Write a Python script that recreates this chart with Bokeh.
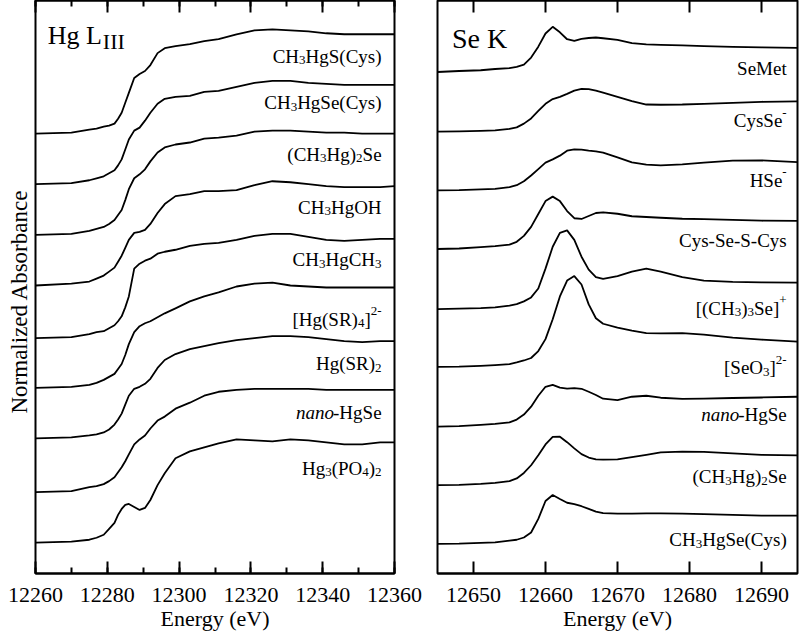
import numpy as np
from bokeh.plotting import figure
from bokeh.layouts import row
from bokeh.models import (Range1d, SingleIntervalTicker, LinearAxis, Title, ColumnDataSource,
                          BasicTickFormatter, CustomLabelingPolicy)
from bokeh.core.properties import value
from bokeh.embed import file_html
from bokeh.resources import INLINE

FONT = "Liberation Serif"

# ---------------- Hg L(III) edge data (normalized absorbance) ----------------
hg_energy = [12260, 12270, 12275, 12277, 12279, 12280.5, 12282, 12283, 12284, 12285, 12286,
             12287.5, 12289, 12290.5, 12292, 12294, 12296, 12299, 12303, 12307, 12311, 12316,
             12321, 12326, 12331, 12336, 12341, 12346, 12351, 12356, 12360]
hg_ch3hgs_cys = [0, 0.01, 0.04, 0.05, 0.07, 0.08, 0.10, 0.15, 0.21, 0.31, 0.41, 0.56, 0.60, 0.63,
                 0.69, 0.81, 0.86, 0.88, 0.90, 0.93, 0.95, 1.00, 1.04, 1.05, 1.04, 1.03, 1.01,
                 1.00, 1.00, 1.00, 1.00]
hg_ch3hgse_cys = [0, 0.01, 0.04, 0.06, 0.08, 0.11, 0.14, 0.19, 0.25, 0.35, 0.45, 0.54, 0.57, 0.64,
                  0.72, 0.81, 0.86, 0.88, 0.89, 0.93, 0.94, 0.98, 1.02, 1.04, 1.04, 1.02, 1.01,
                  1.00, 1.00, 1.00, 1.00]
hg_ch3hg2se = [0, 0.01, 0.04, 0.06, 0.08, 0.11, 0.15, 0.20, 0.25, 0.35, 0.46, 0.57, 0.61, 0.66,
               0.74, 0.83, 0.88, 0.91, 0.93, 0.97, 0.98, 1.00, 1.04, 1.05, 1.05, 1.04, 1.03,
               1.03, 1.02, 1.02, 1.02]
hg_ch3hgoh = [0, 0.02, 0.04, 0.07, 0.10, 0.14, 0.18, 0.24, 0.30, 0.38, 0.46, 0.53, 0.54, 0.56,
              0.62, 0.73, 0.82, 0.90, 0.92, 0.95, 0.95, 0.96, 1.01, 1.05, 1.04, 1.02, 1.00,
              0.99, 0.99, 0.99, 1.00]
hg_ch3hgch3 = [0, 0.01, 0.04, 0.06, 0.07, 0.10, 0.13, 0.17, 0.22, 0.31, 0.42, 0.70, 0.75, 0.78,
               0.80, 0.85, 0.87, 0.89, 0.93, 0.95, 0.96, 0.99, 1.03, 1.05, 1.05, 1.02, 0.99,
               0.98, 0.99, 1.00, 1.00]
hg_hgsr4 = [0, 0.01, 0.03, 0.05, 0.08, 0.11, 0.14, 0.19, 0.24, 0.33, 0.44, 0.56, 0.62, 0.65,
            0.67, 0.71, 0.75, 0.80, 0.87, 0.92, 0.96, 1.02, 1.05, 1.06, 1.03, 1.02, 1.01,
            1.01, 1.01, 1.01, 1.01]
hg_hgsr2 = [0, 0.01, 0.03, 0.04, 0.06, 0.09, 0.14, 0.19, 0.25, 0.34, 0.43, 0.50, 0.52, 0.55,
            0.60, 0.71, 0.79, 0.85, 0.90, 0.93, 0.96, 0.99, 1.01, 1.03, 1.03, 1.02, 1.00,
            0.98, 0.97, 0.98, 0.98]
hg_nanohgse = [0, 0.01, 0.05, 0.06, 0.08, 0.11, 0.15, 0.20, 0.25, 0.31, 0.38, 0.48, 0.53, 0.57,
               0.64, 0.72, 0.76, 0.84, 0.90, 0.97, 1.01, 1.03, 1.04, 1.04, 1.04, 1.04, 1.03,
               1.03, 1.03, 1.03, 1.03]
hg_hg3po42 = [0, 0.01, 0.03, 0.05, 0.08, 0.14, 0.20, 0.28, 0.34, 0.38, 0.39, 0.36, 0.33, 0.35,
              0.43, 0.58, 0.70, 0.85, 0.92, 0.96, 1.00, 1.04, 1.03, 1.02, 1.04, 1.03, 1.01,
              0.99, 0.99, 1.01, 1.01]

# ---------------- Se K edge data (normalized absorbance) ----------------
se_energy = [12645, 12648, 12651, 12653, 12655, 12656, 12657, 12658, 12659, 12660, 12661,
             12662, 12663, 12664, 12665, 12666, 12667, 12668, 12670, 12672, 12674, 12676,
             12679, 12682, 12686, 12690, 12695]
se_semet = [0, 0.04, 0.07, 0.12, 0.16, 0.21, 0.30, 0.58, 1.02, 1.55, 1.82, 1.60, 1.32, 1.25,
            1.33, 1.37, 1.39, 1.36, 1.29, 1.16, 1.11, 1.09, 1.07, 1.04, 1.01, 0.99, 0.97]
se_cysse = [0, 0.01, 0.03, 0.05, 0.11, 0.17, 0.32, 0.53, 0.83, 1.12, 1.31, 1.40, 1.52, 1.65,
            1.72, 1.71, 1.65, 1.57, 1.40, 1.23, 1.09, 1.08, 1.09, 1.12, 1.16, 1.20, 1.22]
se_hse = [0, 0.01, 0.04, 0.06, 0.13, 0.21, 0.37, 0.60, 0.86, 1.12, 1.25, 1.40, 1.60, 1.65,
          1.64, 1.60, 1.57, 1.52, 1.33, 1.13, 1.04, 1.01, 1.05, 1.12, 1.20, 1.21, 1.14]
se_cysses = [0, 0.02, 0.08, 0.12, 0.18, 0.29, 0.53, 0.89, 1.41, 1.93, 2.11, 1.93, 1.53, 1.24,
             1.21, 1.33, 1.45, 1.48, 1.42, 1.32, 1.29, 1.26, 1.22, 1.20, 1.17, 1.14, 1.13]
se_tmse = [0, 0.02, 0.04, 0.07, 0.14, 0.20, 0.31, 0.47, 0.83, 1.63, 2.51, 3.07, 3.17, 2.79,
           2.11, 1.59, 1.29, 1.22, 1.33, 1.51, 1.63, 1.51, 1.29, 1.15, 1.10, 1.08, 1.07]
se_seo3 = [0, 0.01, 0.04, 0.07, 0.11, 0.18, 0.26, 0.36, 0.64, 1.12, 1.92, 2.84, 3.48, 3.66,
           3.32, 2.52, 1.96, 1.74, 1.58, 1.46, 1.36, 1.35, 1.36, 1.30, 1.18, 1.10, 1.02]
se_nanohgse = [0, 0.02, 0.07, 0.11, 0.17, 0.28, 0.48, 0.80, 1.24, 1.60, 1.68, 1.57, 1.53, 1.55,
               1.52, 1.40, 1.27, 1.12, 1.06, 1.20, 1.24, 1.16, 1.11, 1.12, 1.15, 1.17, 1.20]
se_ch3hg2se = [0, 0.01, 0.05, 0.09, 0.16, 0.27, 0.49, 0.80, 1.20, 1.64, 1.94, 1.95, 1.73, 1.48,
               1.25, 1.11, 1.04, 1.03, 1.04, 1.13, 1.22, 1.32, 1.35, 1.34, 1.28, 1.22, 1.20]
se_ch3hgse_cys = [0, 0.01, 0.04, 0.06, 0.13, 0.17, 0.26, 0.46, 1.01, 1.73, 1.97, 1.81, 1.66, 1.60,
                  1.52, 1.41, 1.30, 1.24, 1.22, 1.22, 1.23, 1.23, 1.22, 1.20, 1.17, 1.14, 1.14]

# label pieces: (text, kind) kind: n normal, i italic, sub, sup
hg_label_parts = [
    [("CH", "n"), ("3", "sub"), ("HgS(Cys)", "n")],
    [("CH", "n"), ("3", "sub"), ("HgSe(Cys)", "n")],
    [("(CH", "n"), ("3", "sub"), ("Hg)", "n"), ("2", "sub"), ("Se", "n")],
    [("CH", "n"), ("3", "sub"), ("HgOH", "n")],
    [("CH", "n"), ("3", "sub"), ("HgCH", "n"), ("3", "sub")],
    [("[Hg(SR)", "n"), ("4", "sub"), ("]", "n"), ("2-", "sup")],
    [("Hg(SR)", "n"), ("2", "sub")],
    [("nano", "i"), ("-HgSe", "n")],
    [("Hg", "n"), ("3", "sub"), ("(PO", "n"), ("4", "sub"), (")", "n"), ("2", "sub")],
]
se_label_parts = [
    [("SeMet", "n")],
    [("CysSe", "n"), ("-", "sup")],
    [("HSe", "n"), ("-", "sup")],
    [("Cys-Se-S-Cys", "n")],
    [("[(CH", "n"), ("3", "sub"), (")", "n"), ("3", "sub"), ("Se]", "n"), ("+", "sup")],
    [("[SeO", "n"), ("3", "sub"), ("]", "n"), ("2-", "sup")],
    [("nano", "i"), ("-HgSe", "n")],
    [("(CH", "n"), ("3", "sub"), ("Hg)", "n"), ("2", "sub"), ("Se", "n")],
    [("CH", "n"), ("3", "sub"), ("HgSe(Cys)", "n")],
]

hg_series = [hg_ch3hgs_cys, hg_ch3hgse_cys, hg_ch3hg2se, hg_ch3hgoh, hg_ch3hgch3,
             hg_hgsr4, hg_hgsr2, hg_nanohgse, hg_hg3po42]
se_series = [se_semet, se_cysse, se_hse, se_cysses, se_tmse, se_seo3,
             se_nanohgse, se_ch3hg2se, se_ch3hgse_cys]

# layout: vertical stacking offsets and label baselines (above each offset)
hg_offsets = [4.43, 3.92, 3.41, 2.90, 2.37, 1.87, 1.36, 0.82, 0.31]
hg_label_dy = [0.78, 0.82, 0.81, 0.79, 0.79, 0.69, 0.75, 0.80, 0.75]
se_offsets = [20.20, 17.80, 15.43, 13.07, 10.65, 8.32, 5.92, 3.56, 1.19]
se_label_dy = [0.13, 0.43, 0.40, 0.36, 0.04, -0.03, 0.47, 0.33, 0.17]

# Times / Liberation Serif advance widths (1/1000 em)
TW = dict(zip("ABCDEFGHIJKLMNOPQRSTUVWXYZ",
              [722, 667, 667, 722, 611, 556, 722, 722, 333, 389, 722, 611, 889, 722, 722, 556,
               722, 667, 556, 611, 722, 722, 944, 722, 722, 611]))
TW.update(dict(zip("abcdefghijklmnopqrstuvwxyz",
                   [444, 500, 444, 500, 444, 333, 500, 500, 278, 278, 500, 278, 778, 500, 500,
                    500, 500, 333, 389, 278, 500, 500, 722, 500, 500, 444])))
TW.update({c: 500 for c in "0123456789"})
TW.update({"(": 333, ")": 333, "[": 333, "]": 333, "-": 333, "+": 564, " ": 250})

SIZES = {"n": 19, "i": 19, "sub": 13, "sup": 13}
YOFF = {"n": 0, "i": 0, "sub": 4, "sup": -8}


def tw(s, size):
    return sum(TW.get(c, 500) for c in s) * size / 1000.0


def add_labels(p, parts_list, x_right, ys):
    cols = {k: dict(x=[], y=[], text=[], xo=[], yo=[]) for k in SIZES}
    for parts, y in zip(parts_list, ys):
        total = sum(tw(t, SIZES[k]) for t, k in parts)
        xo = -total
        for t, k in parts:
            d = cols[k]
            d["x"].append(x_right)
            d["y"].append(y)
            d["text"].append(t)
            d["xo"].append(xo)
            d["yo"].append(YOFF[k])
            xo += tw(t, SIZES[k])
    for k, d in cols.items():
        if not d["x"]:
            continue
        p.text(x="x", y="y", text="text", x_offset="xo", y_offset="yo",
               source=ColumnDataSource(d), text_font=value(FONT),
               text_font_size=value(f"{SIZES[k]}px"),
               text_font_style="italic" if k == "i" else "normal",
               text_align="left", text_baseline="alphabetic", text_color="black")


NO_LABELS = """
const all = Array.from(indices);
for (const i of all) { indices.unset(i); }
return indices;
"""


def style(p, interval, minor):
    p.xgrid.visible = False
    p.ygrid.visible = False
    p.yaxis.visible = False
    p.outline_line_color = "black"
    p.outline_line_width = 2
    p.outline_line_alpha = 1
    ax = p.xaxis[0]
    ax.ticker = SingleIntervalTicker(interval=interval, num_minor_ticks=minor)
    ax.formatter = BasicTickFormatter(use_scientific=False)
    ax.axis_line_width = 2
    ax.major_tick_in = 12
    ax.major_tick_out = 0
    ax.minor_tick_in = 6
    ax.minor_tick_out = 0
    ax.major_tick_line_width = 2
    ax.minor_tick_line_width = 2
    ax.major_label_text_font = FONT
    ax.major_label_text_font_size = "22px"
    ax.major_label_text_color = "black"
    ax.major_label_standoff = 14
    ax.axis_label = "Energy (eV)"
    ax.axis_label_text_font = FONT
    ax.axis_label_text_font_size = "22px"
    ax.axis_label_text_font_style = "normal"
    ax.axis_label_text_color = "black"
    ax.axis_label_standoff = 1
    top = LinearAxis(ticker=SingleIntervalTicker(interval=interval, num_minor_ticks=minor),
                     major_label_text_font_size="0px", major_label_standoff=0,
                     major_label_policy=CustomLabelingPolicy(code=NO_LABELS),
                     axis_line_width=2, major_tick_in=12, major_tick_out=0,
                     minor_tick_in=6, minor_tick_out=0,
                     major_tick_line_width=2, minor_tick_line_width=2)
    p.add_layout(top, "above")


# ---------------- left panel ----------------
p1 = figure(frame_width=359, frame_height=573, x_range=Range1d(12260, 12360),
            y_range=Range1d(0, 5.77), output_backend="svg", toolbar_location=None,
            min_border_left=35, min_border_right=32, min_border_top=0, min_border_bottom=0)
style(p1, 20, 2)
for vals, off in zip(hg_series, hg_offsets):
    p1.line(hg_energy, np.array(vals) + off, line_color="black", line_width=1.8, line_join="round")
add_labels(p1, hg_label_parts, 12356.4, [o + d for o, d in zip(hg_offsets, hg_label_dy)])
p1.text(x=[12263.4], y=[5.42], text=["Hg L"], text_font=value(FONT), text_font_size=value("26px"),
        text_align="left", text_baseline="alphabetic", text_color="black")
p1.text(x=[12263.4], y=[5.42], text=["III"], x_offset=tw("Hg L", 26) + 1, y_offset=6,
        text_font=value(FONT), text_font_size=value("22px"),
        text_align="left", text_baseline="alphabetic", text_color="black")
p1.add_layout(Title(text="Normalized Absorbance", align="left", text_font=FONT,
                    text_font_size="23px", text_font_style="normal", text_color="black",
                    standoff=7, offset=160), "left")

# ---------------- right panel ----------------
p2 = figure(frame_width=360, frame_height=573, x_range=Range1d(12645, 12695),
            y_range=Range1d(0, 23.08), output_backend="svg", toolbar_location=None,
            min_border_left=11, min_border_right=2, min_border_top=0, min_border_bottom=0)
style(p2, 10, 0)
for vals, off in zip(se_series, se_offsets):
    p2.line(se_energy, np.array(vals) + off, line_color="black", line_width=1.8, line_join="round")
add_labels(p2, se_label_parts, 12693.5, [o + d for o, d in zip(se_offsets, se_label_dy)])
p2.text(x=[12647.0], y=[21.56], text=["Se K"], text_font=value(FONT), text_font_size=value("28px"),
        text_align="left", text_baseline="alphabetic", text_color="black")

layout = row(p1, p2)
open("out.html", "w").write(file_html(layout, INLINE))
